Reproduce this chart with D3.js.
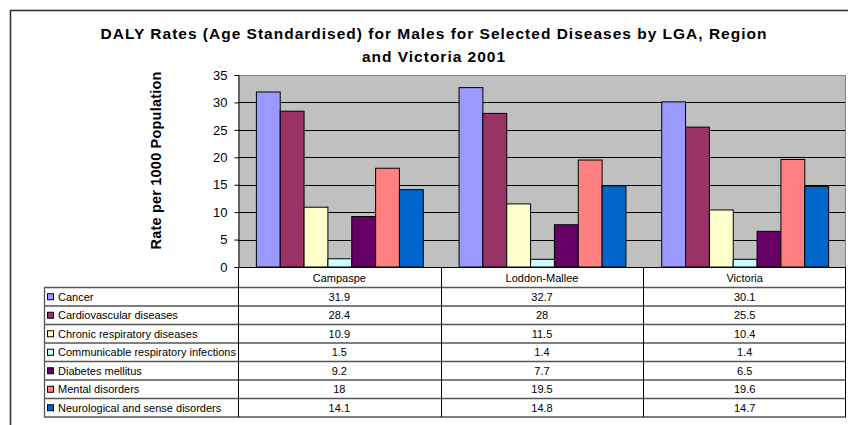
<!DOCTYPE html>
<html>
<head>
<meta charset="utf-8">
<script src="https://cdn.jsdelivr.net/npm/d3@7/dist/d3.min.js"></script>
<style>
  html, body { margin: 0; padding: 0; background: #fff; }
  svg { display: block; font-family: Arial, "Liberation Sans", sans-serif; }
</style>
</head>
<body>
<svg id="chart" width="848" height="425"></svg>
<script>
// Regions shown along the x axis
const regions = ["Campaspe", "Loddon-Mallee", "Victoria"];

// Disease groups (one bar per group in each region)
const diseases = [
  "Cancer",
  "Cardiovascular diseases",
  "Chronic respiratory diseases",
  "Communicable respiratory infections",
  "Diabetes mellitus",
  "Mental disorders",
  "Neurological and sense disorders"
];

// DALY rates per 1000 population, one array per disease, ordered as regions
const cancer = [31.9, 32.7, 30.1];
const cardiovascular = [28.4, 28, 25.5];
const chronicRespiratory = [10.9, 11.5, 10.4];
const communicableRespiratory = [1.5, 1.4, 1.4];
const diabetes = [9.2, 7.7, 6.5];
const mental = [18, 19.5, 19.6];
const neurological = [14.1, 14.8, 14.7];

const seriesValues = [cancer, cardiovascular, chronicRespiratory,
  communicableRespiratory, diabetes, mental, neurological];

const yTicks = [0, 5, 10, 15, 20, 25, 30, 35];

const colors = ["#9999FF", "#993366", "#FFFFCC", "#CCFFFF", "#660066", "#FF8080", "#0066CC"];

const svg = d3.select("#chart");

// Outer chart frame
svg.append("rect")
  .attr("x", 10.5).attr("y", 10.5)
  .attr("width", 900).attr("height", 500)
  .attr("fill", "#fff").attr("stroke", "#333").attr("stroke-width", 1.6);

// Title
const title = svg.append("text")
  .attr("text-anchor", "middle")
  .attr("font-weight", "bold")
  .attr("font-size", 15.5)
  .attr("letter-spacing", 1)
  .attr("fill", "#000");
title.append("tspan").attr("x", 434).attr("y", 39)
  .text("DALY Rates (Age Standardised) for Males for Selected Diseases by LGA, Region");
title.append("tspan").attr("x", 434).attr("y", 62)
  .text("and Victoria 2001");

// Plot geometry
const plotL = 238, plotR = 846, plotT = 75, plotB = 267;

const x = d3.scaleBand().domain(regions).range([plotL, plotR]).padding(0);
const y = d3.scaleLinear().domain([0, 35]).range([plotB, plotT]);

// Inner band for the 7 bars: gap between groups is 1.5 bar widths
const barW = x.bandwidth() / (diseases.length + 1.5);
const xInner = d3.scaleBand().domain(d3.range(diseases.length))
  .range([barW * 0.75, barW * 0.75 + barW * diseases.length]).padding(0);

// Plot background
svg.append("rect")
  .attr("x", plotL).attr("y", plotT)
  .attr("width", plotR - plotL).attr("height", plotB - plotT)
  .attr("fill", "#C0C0C0");

// Gridlines
svg.append("g").selectAll("line")
  .data(yTicks.filter(t => t > 0 && t < 35))
  .join("line")
  .attr("x1", plotL).attr("x2", plotR)
  .attr("y1", d => Math.round(y(d)) + 0.5).attr("y2", d => Math.round(y(d)) + 0.5)
  .attr("stroke", "#000").attr("stroke-width", 1);

// Plot border (top and right)
svg.append("path")
  .attr("d", `M${plotL},${plotT + 0.5}H${plotR - 0.5}V${plotB}`)
  .attr("fill", "none").attr("stroke", "#808080").attr("stroke-width", 1);

// Bars
const groups = svg.append("g").selectAll("g")
  .data(regions)
  .join("g")
  .attr("transform", d => `translate(${x(d)},0)`);

groups.selectAll("rect")
  .data((r, ri) => seriesValues.map((vals, si) => ({ si, v: vals[ri] })))
  .join("rect")
  .attr("x", d => xInner(d.si) + 0.5)
  .attr("y", d => y(d.v))
  .attr("width", xInner.bandwidth())
  .attr("height", d => y(0) - y(d.v))
  .attr("fill", d => colors[d.si])
  .attr("stroke", "#000").attr("stroke-width", 1);

// Y axis
const yAxis = d3.axisLeft(y).tickValues(yTicks).tickSize(4).tickPadding(7).tickFormat(d3.format("d"));
const yG = svg.append("g")
  .attr("transform", `translate(${plotL + 0.5},0)`)
  .call(yAxis);
yG.select(".domain").attr("stroke", "#000");
yG.selectAll(".tick line").attr("stroke", "#000");
yG.selectAll(".tick text")
  .attr("font-size", 13).attr("font-family", "Arial, 'Liberation Sans', sans-serif")
  .attr("fill", "#000");

// X axis line
svg.append("line")
  .attr("x1", plotL).attr("x2", plotR)
  .attr("y1", plotB + 0.5).attr("y2", plotB + 0.5)
  .attr("stroke", "#000");

// Y axis title
svg.append("text")
  .attr("transform", `translate(161,160.5) rotate(-90)`)
  .attr("text-anchor", "middle")
  .attr("font-weight", "bold")
  .attr("font-size", 14.5)
  .attr("letter-spacing", 0.2)
  .text("Rate per 1000 Population");

// Data table
const tableL = 44, headerB = 287, rowH = 18.5;
const tableB = headerB + rowH * diseases.length;

const tbl = svg.append("g");

// Region header labels
tbl.selectAll("text.hdr")
  .data(regions)
  .join("text")
  .attr("class", "hdr")
  .attr("x", d => x(d) + x.bandwidth() / 2)
  .attr("y", 282)
  .attr("text-anchor", "middle")
  .attr("font-size", 11)
  .text(d => d);

// Row lines
tbl.selectAll("line.row")
  .data(d3.range(diseases.length + 1))
  .join("line")
  .attr("class", "row")
  .attr("x1", tableL).attr("x2", plotR)
  .attr("y1", i => headerB + i * rowH + 0.5).attr("y2", i => headerB + i * rowH + 0.5)
  .attr("stroke", "#555").attr("stroke-width", 1.3);

// Left border of legend column
tbl.append("line")
  .attr("x1", tableL + 0.5).attr("x2", tableL + 0.5)
  .attr("y1", headerB).attr("y2", tableB + 0.5)
  .attr("stroke", "#555").attr("stroke-width", 1.3);

// Column separators
tbl.selectAll("line.col")
  .data(regions)
  .join("line")
  .attr("class", "col")
  .attr("x1", d => Math.round(x(d)) + 0.5).attr("x2", d => Math.round(x(d)) + 0.5)
  .attr("y1", plotB).attr("y2", tableB + 0.5)
  .attr("stroke", "#000");

tbl.append("line")
  .attr("x1", plotR - 0.5).attr("x2", plotR - 0.5)
  .attr("y1", plotB).attr("y2", tableB + 0.5)
  .attr("stroke", "#000");

// Rows: legend key, series name and values
const rows = tbl.selectAll("g.r")
  .data(diseases)
  .join("g")
  .attr("class", "r")
  .attr("transform", (d, i) => `translate(0,${headerB + i * rowH})`);

rows.append("rect")
  .attr("x", 47.5).attr("y", rowH / 2 - 2.5)
  .attr("width", 6).attr("height", 6)
  .attr("fill", (d, i) => colors[i])
  .attr("stroke", "#000").attr("stroke-width", 1);

rows.append("text")
  .attr("x", 58).attr("y", rowH / 2 + 4.5)
  .attr("font-size", 11)
  .text(d => d);

rows.selectAll("text.v")
  .data((d, i) => regions.map((r, ri) => ({ r, v: seriesValues[i][ri] })))
  .join("text")
  .attr("class", "v")
  .attr("x", d => x(d.r) + x.bandwidth() / 2)
  .attr("y", rowH / 2 + 4.5)
  .attr("text-anchor", "middle")
  .attr("font-size", 11)
  .text(d => d.v);
</script>
</body>
</html>
